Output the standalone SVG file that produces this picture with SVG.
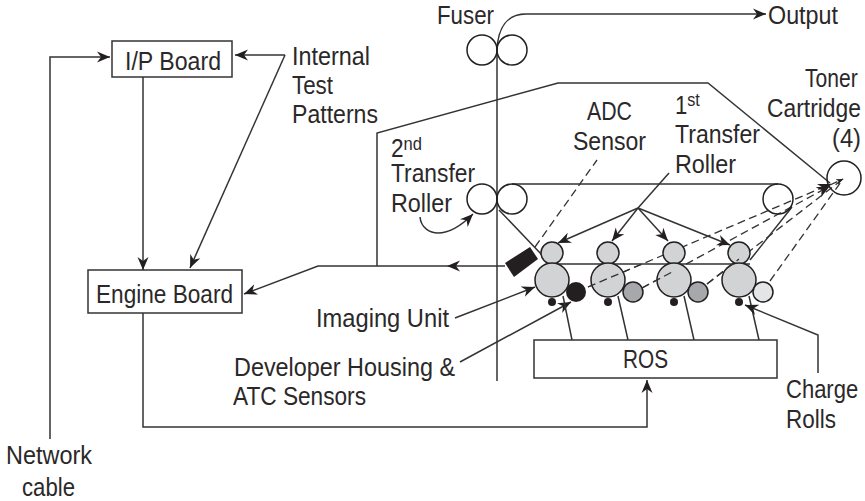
<svg xmlns="http://www.w3.org/2000/svg" width="865" height="501" viewBox="0 0 865 501">
<style>
text{font-family:"Liberation Sans Narrow","Liberation Sans",Arial,sans-serif;font-size:26px;fill:#2b2829}
.sup{font-size:19px}
.l{fill:none;stroke:#333;stroke-width:1.5}
.a{marker-end:url(#ah)}
.as{marker-end:url(#ahs)}
.d{stroke-dasharray:8 4.5;stroke-width:1.3}
.s{fill:none;stroke:#231f20;stroke-width:1.5}
.b{fill:#fff;stroke:#333;stroke-width:1.5}
.g{fill:#d1d3d4;stroke:#231f20;stroke-width:1.5}
.m{fill:#a6a8ab;stroke:#231f20;stroke-width:1.5}
.k{fill:#231f20}
.w{fill:#e4e5e6;stroke:#231f20;stroke-width:1.5}
</style>
<defs>
<marker id="ah" markerUnits="userSpaceOnUse" markerWidth="14" markerHeight="12" refX="13" refY="6" orient="auto"><path d="M13,6 L0,0.5 L4,6 L0,11.5 z" fill="#231f20"/></marker>
<marker id="ahs" markerUnits="userSpaceOnUse" markerWidth="8" markerHeight="8" refX="7" refY="4" orient="auto"><path d="M7,4 L0,1 L2,4 L0,7 z" fill="#231f20"/></marker>
</defs>
<g id="connectors">
<path class="l a" d="M497,50 C498,28 507,14 526,14 L766,14"/>
<path class="l" d="M497,50 L497,381"/>
<path class="l a" d="M50,439 L50,57 L110,57"/>
<path class="l a" d="M143,77 L143,270"/>
<path class="l a" d="M285,55 L235,55"/>
<path class="l a" d="M285,55 L190,268"/>
<path class="l a" d="M505,266 L447,266"/>
<path class="l a" d="M447,266 L318,266 L244,294"/>
<path class="l" d="M377,266 L377,133 L558,83 L708,83 L830,183"/>
<path class="l a" d="M143,313 L143,427 L647,427 L647,380"/>
<path class="l a" d="M420,217 C421,228 430,233 438,233 C450,233 462,225 473,214"/>
<path class="l" d="M512,184 L778,184 M555,264 L750,264 M499,210 L542,255 M792,207 L750,260"/>
<path class="l d" d="M535,247 L597,160"/>
<path class="l d a" d="M588,287 L831,184"/>
<path class="l d a" d="M642,288 L830,186"/>
<path class="l d" d="M707,284 L843,179"/>
<path class="l d" d="M770,281 L843,179"/>
<path class="l d as" d="M830,185 L843,179"/>
<path class="l" d="M669,173 L638,208"/>
<path class="l a" d="M638,208 L558,243"/>
<path class="l a" d="M638,208 L612,241"/>
<path class="l a" d="M638,208 L668,241"/>
<path class="l a" d="M638,208 L730,245"/>
<path class="l a" d="M455,318 L535,287"/>
<path class="l a" d="M460,362 L571,302"/>
<path class="l" d="M572,340 L563,296 M628,340 L618,296 M694,340 L684,296 M759,340 L749,296"/>
<path class="l a" d="M818,373 L818,335 L745,305"/>
</g>
<g id="fuser"><circle class="s" cx="482" cy="50" r="15"/><circle class="s" cx="512" cy="50" r="15"/><text x="437" y="24" textLength="57" lengthAdjust="spacingAndGlyphs">Fuser</text></g>
<text id="output" x="768" y="24" textLength="70" lengthAdjust="spacingAndGlyphs">Output</text>
<g id="toner-cartridge"><circle class="s" cx="844" cy="178" r="17"/><text transform="translate(805,87) scale(.81,1)">Toner</text><text transform="translate(767,117) scale(.879,1)">Cartridge</text><text x="832" y="147" textLength="29" lengthAdjust="spacingAndGlyphs">(4)</text></g>
<g id="adc-sensor"><polygon class="k" points="505,263 530,247 538,259 514,277"/><text x="587" y="120" textLength="45" lengthAdjust="spacingAndGlyphs">ADC</text><text x="573" y="150" textLength="73" lengthAdjust="spacingAndGlyphs">Sensor</text></g>
<g id="first-transfer-label"><text transform="translate(675,114) scale(.85,1)">1<tspan class="sup" dy="-8">st</tspan></text><text x="675" y="143" textLength="85" lengthAdjust="spacingAndGlyphs">Transfer</text><text x="675" y="173" textLength="61" lengthAdjust="spacingAndGlyphs">Roller</text></g>
<g id="second-transfer"><circle class="s" cx="482" cy="199" r="15"/><circle class="s" cx="512" cy="199" r="15"/><text transform="translate(391,157) scale(.87,1)">2<tspan class="sup" dy="-7">nd</tspan></text><text x="391" y="182" textLength="84" lengthAdjust="spacingAndGlyphs">Transfer</text><text x="391" y="212" textLength="61" lengthAdjust="spacingAndGlyphs">Roller</text></g>
<g id="belt-roller"><circle class="s" cx="778" cy="199" r="15"/></g>
<g id="imaging-1"><circle class="g" cx="552" cy="253" r="11"/><circle class="g" cx="552" cy="280" r="17"/><circle class="k" cx="576" cy="292" r="10"/><circle class="k" cx="552" cy="302" r="4"/></g>
<g id="imaging-2"><circle class="g" cx="608" cy="253" r="11"/><circle class="g" cx="608" cy="280" r="17"/><circle class="m" cx="633" cy="292" r="10"/><circle class="k" cx="608" cy="302" r="4"/></g>
<g id="imaging-3"><circle class="g" cx="674" cy="253" r="11"/><circle class="g" cx="674" cy="280" r="17"/><circle class="m" cx="698" cy="292" r="10"/><circle class="k" cx="674" cy="302" r="4"/></g>
<g id="imaging-4"><circle class="g" cx="739" cy="253" r="11"/><circle class="g" cx="739" cy="280" r="17"/><circle class="w" cx="763" cy="292" r="10"/><circle class="k" cx="739" cy="302" r="4"/></g>
<g id="dashed-over"><path class="l d" d="M588,287 L642,264 M642,288 L674,271 M707,284 L739,259"/></g>
<g id="ros"><rect class="b" x="534" y="340" width="243" height="38"/><text x="623" y="368" textLength="45" lengthAdjust="spacingAndGlyphs">ROS</text></g>
<g id="ip-board"><rect class="b" x="112" y="41" width="120" height="36"/><text x="125" y="70" textLength="96" lengthAdjust="spacingAndGlyphs">I/P Board</text></g>
<g id="engine-board"><rect class="b" x="88" y="270" width="154" height="43"/><text x="96" y="303" textLength="137" lengthAdjust="spacingAndGlyphs">Engine Board</text></g>
<g id="internal-test-patterns"><text x="292" y="65" textLength="78" lengthAdjust="spacingAndGlyphs">Internal</text><text x="292" y="94" textLength="41" lengthAdjust="spacingAndGlyphs">Test</text><text x="292" y="123" textLength="86" lengthAdjust="spacingAndGlyphs">Patterns</text></g>
<text id="imaging-unit" x="316" y="327" textLength="133" lengthAdjust="spacingAndGlyphs">Imaging Unit</text>
<g id="developer-housing"><text x="234" y="376" textLength="221" lengthAdjust="spacingAndGlyphs">Developer Housing &amp;</text><text x="233" y="405" textLength="133" lengthAdjust="spacingAndGlyphs">ATC Sensors</text></g>
<g id="charge-rolls"><text transform="translate(786,398) scale(.847,1)">Charge</text><text transform="translate(786,428) scale(.865,1)">Rolls</text></g>
<g id="network-cable"><text x="6" y="464" textLength="86" lengthAdjust="spacingAndGlyphs">Network</text><text x="22" y="496" textLength="53" lengthAdjust="spacingAndGlyphs">cable</text></g>
</svg>
